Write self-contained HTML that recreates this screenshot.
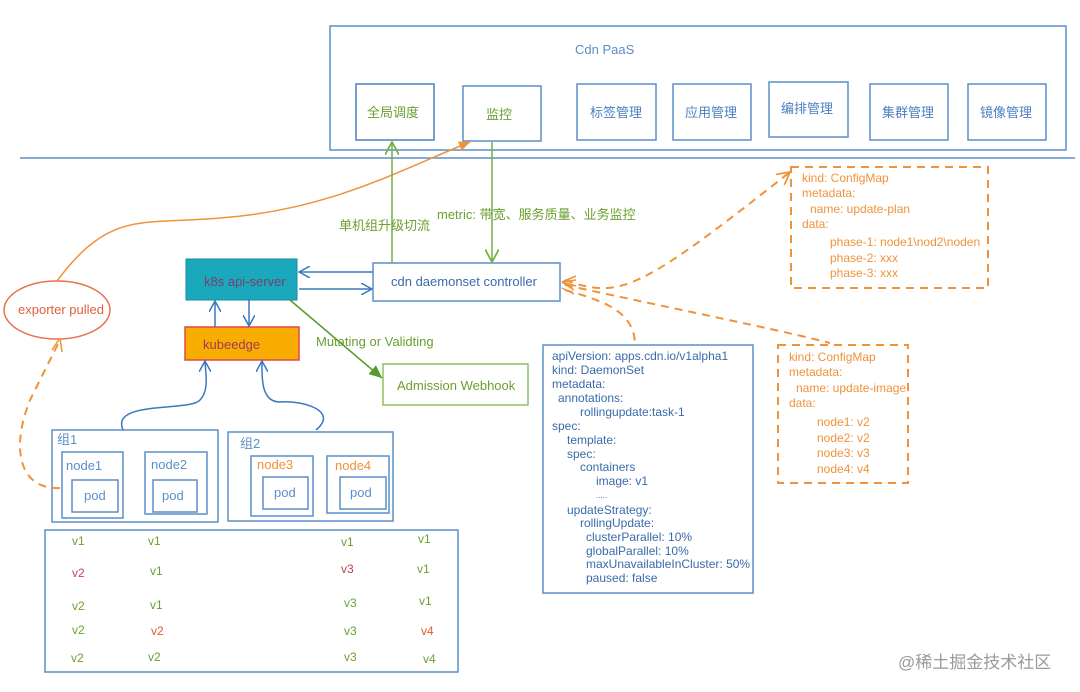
<!DOCTYPE html>
<html><head><meta charset="utf-8"><style>
body{margin:0;background:#fff;}
svg{display:block;font-family:"Liberation Sans","Noto Sans CJK SC",sans-serif;}
</style></head><body>
<svg width="1080" height="692" viewBox="0 0 1080 692" xmlns="http://www.w3.org/2000/svg">
<defs>
<marker id="ob" viewBox="0 0 12 12" refX="11" refY="6" markerWidth="12" markerHeight="12" orient="auto" markerUnits="userSpaceOnUse"><path d="M0,0 L11,6 L0,12" fill="none" stroke="#3a78c0" stroke-width="1.5"/></marker>
<marker id="og" viewBox="0 0 12 12" refX="11" refY="6" markerWidth="14" markerHeight="14" orient="auto" markerUnits="userSpaceOnUse"><path d="M0,0 L11,6 L0,12" fill="none" stroke="#72b043" stroke-width="1.5"/></marker>
<marker id="fg" viewBox="0 0 12 12" refX="11" refY="6" markerWidth="14" markerHeight="14" orient="auto" markerUnits="userSpaceOnUse"><path d="M0,1 L11,6 L0,11 z" fill="#5a9a2a"/></marker>
<marker id="oo" viewBox="0 0 12 12" refX="11" refY="6" markerWidth="14" markerHeight="14" orient="auto" markerUnits="userSpaceOnUse"><path d="M0,0 L11,6 L0,12" fill="none" stroke="#f0923a" stroke-width="1.5"/></marker>
<marker id="fo" viewBox="0 0 12 12" refX="11" refY="6" markerWidth="12" markerHeight="12" orient="auto" markerUnits="userSpaceOnUse"><path d="M0,1 L11,6 L0,11 z" fill="#f0923a"/></marker>
</defs>
<g fill="none" stroke="#5b8fc9" stroke-width="1.5">
<rect x="330" y="26" width="736" height="124"/>
<line x1="20" y1="158" x2="1075" y2="158"/>
<rect x="356" y="84" width="78" height="56" stroke="#4a80c0"/>
<rect x="463" y="86" width="78" height="55"/>
<rect x="577" y="84" width="79" height="56"/>
<rect x="673" y="84" width="78" height="56"/>
<rect x="769" y="82" width="79" height="55"/>
<rect x="870" y="84" width="78" height="56"/>
<rect x="968" y="84" width="78" height="56"/>
<rect x="373" y="263" width="187" height="38"/>
<rect x="52" y="430" width="166" height="92"/>
<rect x="62" y="452" width="61" height="66"/>
<rect x="72" y="480" width="46" height="32"/>
<rect x="145" y="452" width="62" height="62"/>
<rect x="153" y="480" width="44" height="32"/>
<rect x="228" y="432" width="165" height="89"/>
<rect x="251" y="456" width="62" height="60"/>
<rect x="263" y="477" width="45" height="32"/>
<rect x="327" y="456" width="62" height="57"/>
<rect x="340" y="477" width="46" height="32"/>
<rect x="45" y="530" width="413" height="142"/>
<rect x="543" y="345" width="210" height="248"/>
</g>
<rect x="186" y="259" width="111" height="41" fill="#1aa8bd" stroke="#1a8aa0"/>
<rect x="185" y="327" width="114" height="33" fill="#f8ad00" stroke="#e04848" stroke-width="1.5"/>
<rect x="383" y="364" width="145" height="41" fill="none" stroke="#8cc060" stroke-width="1.5"/>
<ellipse cx="57" cy="310" rx="53" ry="29" fill="none" stroke="#e8704a" stroke-width="1.5"/>
<g fill="none" stroke="#f0923a" stroke-width="2" stroke-dasharray="8,6">
<rect x="791" y="167" width="197" height="121"/>
<rect x="778" y="345" width="130" height="138"/>
<path d="M565,280 C620,300 640,290 790,172" marker-end="url(#oo)"/>
<path d="M565,285 C680,310 780,330 830,343"/>
<path d="M565,290 C600,300 635,310 635,345"/>
<path d="M60,488 C20,490 10,450 30,400 C40,380 55,350 60,340"/>
</g>
<path d="M562,282 l14,-6 M562,282 l14,-2 M562,282 l14,4 M562,282 l12,8 M562,288 l12,6" stroke="#f0923a" stroke-width="1.5"/>
<path d="M60,338 l-8,12 M60,338 l2,14" stroke="#f0923a" stroke-width="1.5" fill="none"/>
<path d="M57,281 C110,210 140,225 220,218 C330,210 400,170 470,142" fill="none" stroke="#f0923a" stroke-width="1.5" marker-end="url(#fo)"/>
<g stroke="#72b043" stroke-width="1.5" fill="none">
<line x1="392" y1="263" x2="392" y2="142" marker-end="url(#og)"/>
<line x1="492" y1="142" x2="492" y2="262" marker-end="url(#og)"/>
<line x1="290" y1="300" x2="382" y2="378" stroke="#5a9a2a" marker-end="url(#fg)"/>
</g>
<g stroke="#3a78c0" stroke-width="1.5" fill="none">
<line x1="373" y1="272" x2="299" y2="272" marker-end="url(#ob)"/>
<line x1="299" y1="289" x2="372" y2="289" marker-end="url(#ob)"/>
<line x1="215" y1="327" x2="215" y2="301" marker-end="url(#ob)"/>
<line x1="249" y1="300" x2="249" y2="326" marker-end="url(#ob)"/>
<path d="M123,430 C110,400 190,412 200,400 C210,390 205,370 205,361" marker-end="url(#ob)"/>
<path d="M316,430 C340,410 300,400 280,402 C260,402 262,375 262,361" marker-end="url(#ob)"/>
</g>
<g font-size="13" fill="#5b8fc9">
<text x="575" y="54">Cdn PaaS</text>
<text x="367" y="117" fill="#6aa030">全局调度</text>
<text x="486" y="119" fill="#6aa030">监控</text>
<text x="590" y="117" fill="#4a80c0">标签管理</text>
<text x="685" y="117" fill="#4a80c0">应用管理</text>
<text x="781" y="113" fill="#4a80c0">编排管理</text>
<text x="882" y="117" fill="#4a80c0">集群管理</text>
<text x="980" y="117" fill="#4a80c0">镜像管理</text>
<text x="339" y="230" fill="#6aa030">单机组升级切流</text>
<text x="437" y="219" fill="#6aa030">metric:  带宽、服务质量、业务监控</text>
<text x="204" y="286" fill="#7a3e6a">k8s api-server</text>
<text x="391" y="286" fill="#3a6aaa">cdn daemonset  controller</text>
<text x="203" y="349" fill="#9a3a5a">kubeedge</text>
<text x="316" y="346" fill="#6aa030">Mutating or Validting</text>
<text x="397" y="390" fill="#6aa030">Admission Webhook</text>
<text x="18" y="314" fill="#e06040">exporter pulled</text>
<text x="57" y="444">组1</text>
<text x="66" y="470">node1</text>
<text x="151" y="469">node2</text>
<text x="84" y="500">pod</text>
<text x="162" y="500">pod</text>
<text x="240" y="448">组2</text>
<text x="257" y="469" fill="#f0923a">node3</text>
<text x="335" y="470" fill="#f0923a">node4</text>
<text x="274" y="497">pod</text>
<text x="350" y="497">pod</text>
</g>
<g font-size="12" fill="#6aa030">
<text x="72" y="545">v1</text><text x="148" y="545">v1</text><text x="341" y="546">v1</text><text x="418" y="543">v1</text>
<text x="72" y="577" fill="#d04060">v2</text><text x="150" y="575">v1</text><text x="341" y="573" fill="#c04050">v3</text><text x="417" y="573">v1</text>
<text x="72" y="610">v2</text><text x="150" y="609">v1</text><text x="344" y="607">v3</text><text x="419" y="605">v1</text>
<text x="72" y="634">v2</text><text x="151" y="635" fill="#e05a30">v2</text><text x="344" y="635">v3</text><text x="421" y="635" fill="#e05a30">v4</text>
<text x="71" y="662">v2</text><text x="148" y="661">v2</text><text x="344" y="661">v3</text><text x="423" y="663">v4</text>
</g>
<g font-size="12" fill="#3a6aaa">
<text x="552" y="360">apiVersion: apps.cdn.io/v1alpha1</text>
<text x="552" y="374">kind: DaemonSet</text>
<text x="552" y="388">metadata:</text>
<text x="558" y="402">annotations:</text>
<text x="580" y="416">rollingupdate:task-1</text>
<text x="552" y="430">spec:</text>
<text x="567" y="444">template:</text>
<text x="567" y="458">spec:</text>
<text x="580" y="471">containers</text>
<text x="596" y="485">image:  v1</text>
<text x="596" y="498" font-size="8">.....</text>
<text x="567" y="514">updateStrategy:</text>
<text x="580" y="527">rollingUpdate:</text>
<text x="586" y="541">clusterParallel: 10%</text>
<text x="586" y="555">globalParallel: 10%</text>
<text x="586" y="568">maxUnavailableInCluster: 50%</text>
<text x="586" y="582">paused: false</text>
</g>
<g font-size="12" fill="#f0923a">
<text x="802" y="182">kind: ConfigMap</text>
<text x="802" y="197">metadata:</text>
<text x="810" y="213">name: update-plan</text>
<text x="802" y="228">data:</text>
<text x="830" y="246">phase-1: node1\nod2\noden</text>
<text x="830" y="262">phase-2: xxx</text>
<text x="830" y="277">phase-3: xxx</text>
<text x="789" y="361">kind: ConfigMap</text>
<text x="789" y="376">metadata:</text>
<text x="796" y="392">name: update-image</text>
<text x="789" y="407">data:</text>
<text x="817" y="426">node1:  v2</text>
<text x="817" y="442">node2:  v2</text>
<text x="817" y="457">node3:  v3</text>
<text x="817" y="473">node4:  v4</text>
</g>
<text x="898" y="668" font-size="17" fill="#9a9a9a">@稀土掘金技术社区</text>
</svg>
</body></html>
